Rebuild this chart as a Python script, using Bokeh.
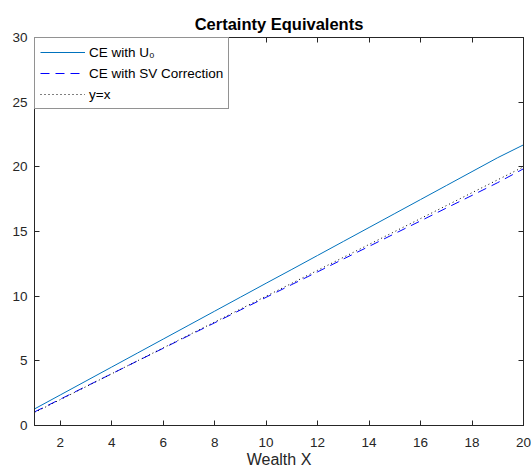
from bokeh.plotting import figure
from bokeh.models import LinearAxis, Range1d, Legend, LegendItem, FixedTicker
from bokeh.embed import file_html
from bokeh.resources import INLINE

# Data
wealth = [1, 2, 3, 4, 5, 6, 7, 8, 9, 10, 11, 12, 13, 14, 15, 16, 17, 18, 19, 20]
ce_u0 = [1.28, 2.36, 3.44, 4.52, 5.60, 6.68, 7.76, 8.84, 9.92, 11.00,
         12.07, 13.15, 14.23, 15.31, 16.39, 17.47, 18.55, 19.63, 20.71, 21.70]
ce_sv = [1.05, 2.03, 3.02, 4.00, 4.99, 5.97, 6.96, 7.94, 8.93, 9.91,
         10.90, 11.88, 12.87, 13.85, 14.84, 15.82, 16.81, 17.79, 18.78, 19.85]
identity = [1, 2, 3, 4, 5, 6, 7, 8, 9, 10, 11, 12, 13, 14, 15, 16, 17, 18, 19, 20]
x_ticks = [2, 4, 6, 8, 10, 12, 14, 16, 18, 20]
y_ticks = [0, 5, 10, 15, 20, 25, 30]

FONT = "Liberation Sans"
AX = "#262626"

p = figure(width=531, height=471, output_backend="svg", toolbar_location=None,
           x_range=Range1d(1, 20), y_range=Range1d(0, 30),
           min_border_left=34, min_border_right=8, min_border_top=37, min_border_bottom=46,
           title="Certainty Equivalents")
p.title.align = "center"
p.title.text_font = FONT
p.title.text_font_size = "16.5px"
p.title.text_font_style = "bold"
p.title.text_color = "black"
p.title.standoff = 9
p.title.offset = 0

p.xgrid.visible = False
p.ygrid.visible = False
p.outline_line_color = AX
p.outline_line_width = 1
p.background_fill_color = "white"
p.border_fill_color = "white"

def style_axis(ax, ticks, labels=True):
    ax.ticker = FixedTicker(ticks=ticks)
    ax.axis_line_color = AX
    ax.major_tick_line_color = AX
    ax.major_tick_in = 5
    ax.major_tick_out = 0
    ax.minor_tick_line_color = None
    ax.major_label_text_font = FONT
    ax.major_label_text_color = AX
    ax.major_label_text_font_size = "13.5px"
    if not labels:
        ax.major_label_overrides = {t: "" for t in ticks}
        ax.major_label_standoff = 0

style_axis(p.xaxis[0], x_ticks)
style_axis(p.yaxis[0], y_ticks)
p.xaxis[0].major_label_standoff = 12
p.yaxis[0].major_label_standoff = 7
p.xaxis[0].axis_label = "Wealth X"
p.xaxis[0].axis_label_text_font = FONT
p.xaxis[0].axis_label_text_font_size = "16px"
p.xaxis[0].axis_label_text_font_style = "normal"
p.xaxis[0].axis_label_text_color = AX
p.xaxis[0].axis_label_standoff = 1

top_ax = LinearAxis()
style_axis(top_ax, x_ticks, labels=False)
p.add_layout(top_ax, "above")
right_ax = LinearAxis()
style_axis(right_ax, y_ticks, labels=False)
p.add_layout(right_ax, "right")

r1 = p.line(wealth, ce_u0, line_color="#0072BD", line_width=1)
r2 = p.line(wealth, ce_sv, line_color="#0000FF", line_width=1, line_dash="9 6")
r3 = p.line(wealth, identity, line_color="black", line_width=1, line_dash="1 3")

legend = Legend(items=[
    LegendItem(label="CE with U\u2080", renderers=[r1]),
    LegendItem(label="CE with SV Correction", renderers=[r2]),
    LegendItem(label="y=x", renderers=[r3]),
], location="top_left")
legend.margin = 0
legend.padding = 5
legend.spacing = 3
legend.glyph_width = 45
legend.glyph_height = 18
legend.label_height = 18
legend.label_standoff = 4
legend.label_text_font = FONT
legend.label_text_font_size = "13.5px"
legend.label_text_color = "black"
legend.border_line_color = AX
legend.border_line_width = 1
legend.background_fill_color = "white"
legend.background_fill_alpha = 1
p.add_layout(legend, "center")

open("out.html", "w").write(file_html(p, INLINE))
